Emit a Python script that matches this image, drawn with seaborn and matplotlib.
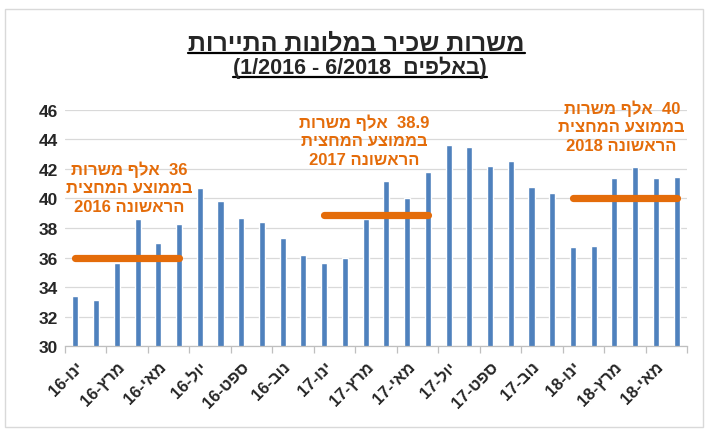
import re
import pandas as pd
import matplotlib.pyplot as plt
import seaborn as sns
from matplotlib.lines import Line2D
from matplotlib.patches import Rectangle

# monthly values, thousands of jobs (1/2016 - 6/2018)
month_names = ['ינו', 'פבר', 'מרץ', 'אפר', 'מאי', 'יונ', 'יול', 'אוג', 'ספט', 'אוק', 'נוב', 'דצמ']
years = ['16', '17', '18']
values = [33.4, 33.1, 35.6, 38.6, 37.0, 38.3, 40.7, 39.8, 38.7, 38.4, 37.3, 36.2,
          35.6, 36.0, 38.6, 41.2, 40.0, 41.8, 43.6, 43.45, 42.2, 42.5, 40.75, 40.4,
          36.7, 36.8, 41.4, 42.15, 41.4, 41.45]

# first-half averages
half_start = [0, 12, 24]
half_avg = [36, 38.9, 40]
half_year = ['2016', '2017', '2018']

title = 'משרות שכיר במלונות התיירות'
subtitle = '(באלפים  6/2018 - 1/2016)'

BLUE = '#4F81BD'
ORANGE = '#E46C0A'


def rtl(s):
    # matplotlib has no bidi support: reverse the glyph order, keep number runs intact
    tokens = re.findall(r'[0-9./]+|.', s)
    out = ''.join(tokens[::-1])
    return out.translate(str.maketrans('()', ')('))


labels = []
for y in years:
    for m in month_names:
        labels.append(rtl(f'{m}-{y}'))
labels = labels[:len(values)]

df = pd.DataFrame({'month': labels, 'jobs': values})

sns.set_theme(style='white')
plt.rcParams['font.family'] = ['Liberation Sans', 'DejaVu Sans']

fig = plt.figure(figsize=(7.09, 4.31), dpi=100)
ax = fig.add_axes([65 / 709, 1 - 347.3 / 431, 622 / 709, 236.6 / 431])

sns.barplot(data=df, x='month', y='jobs', order=labels, color=BLUE,
            saturation=1, width=0.29, ax=ax)

for start, avg in zip(half_start, half_avg):
    ax.plot([start, start + 5], [avg, avg], color=ORANGE, lw=5.2,
            solid_capstyle='round', zorder=5)

ax.set_ylim(30, 46)
ax.set_xlim(-0.5, len(values) - 0.5)
ax.set_yticks(range(30, 47, 2))
ax.set_yticklabels([str(v) for v in range(30, 47, 2)], fontsize=12.5, fontweight='bold')
ax.yaxis.grid(True, color='#D9D9D9', lw=0.9)
ax.set_axisbelow(True)
ax.tick_params(axis='y', length=0, pad=5)

# tick marks between every two months, labels under every other month
ax.set_xticks([i - 0.5 for i in range(0, len(values) + 1, 2)])
ax.set_xticklabels([])
ax.set_xticks(range(0, len(values), 2), minor=True)
ax.set_xticklabels(labels[::2], minor=True, rotation=45, ha='right',
                   rotation_mode='anchor', fontsize=12, fontweight='bold')
ax.tick_params(axis='x', which='major', length=5, color='#BFBFBF', width=0.9, bottom=True)
ax.tick_params(axis='x', which='minor', length=0, pad=9)
ax.set_xlabel('')
ax.set_ylabel('')

for side in ['top', 'right', 'left']:
    ax.spines[side].set_visible(False)
ax.spines['bottom'].set_color('#BFBFBF')
ax.spines['bottom'].set_linewidth(0.9)

# annotations
ann_pos = [(2.6, 40.77), (13.95, 43.95), (26.35, 44.9)]
for (x, y), avg, yr in zip(ann_pos, half_avg, half_year):
    txt = '\n'.join([rtl(f'{avg:g}  אלף משרות'),
                     rtl('בממוצע המחצית'),
                     rtl(f'הראשונה {yr}')])
    ax.text(x, y, txt, ha='center', va='center', multialignment='center',
            color=ORANGE, fontsize=12, fontweight='bold', linespacing=1.3, zorder=6)

t1 = fig.text(0.503, 1 - 43 / 431, rtl(title), ha='center', va='center',
              fontsize=18, fontweight='bold')
t2 = fig.text(0.508, 1 - 68 / 431, rtl(subtitle), ha='center', va='center',
              fontsize=15.5, fontweight='bold')

# underline the titles
fig.canvas.draw()
renderer = fig.canvas.get_renderer()
for t in [t1, t2]:
    bb = t.get_window_extent(renderer)
    y0 = bb.y0 + 1.5
    fig.add_artist(Line2D([bb.x0, bb.x1], [y0, y0], transform=None,
                          color='black', lw=1.6))

fig.add_artist(Rectangle((5 / 709, 3 / 431), 698 / 709, 418 / 431,
                         transform=fig.transFigure, fill=False,
                         edgecolor='#D9D9D9', lw=1))

fig.savefig('out.png', dpi=100)
